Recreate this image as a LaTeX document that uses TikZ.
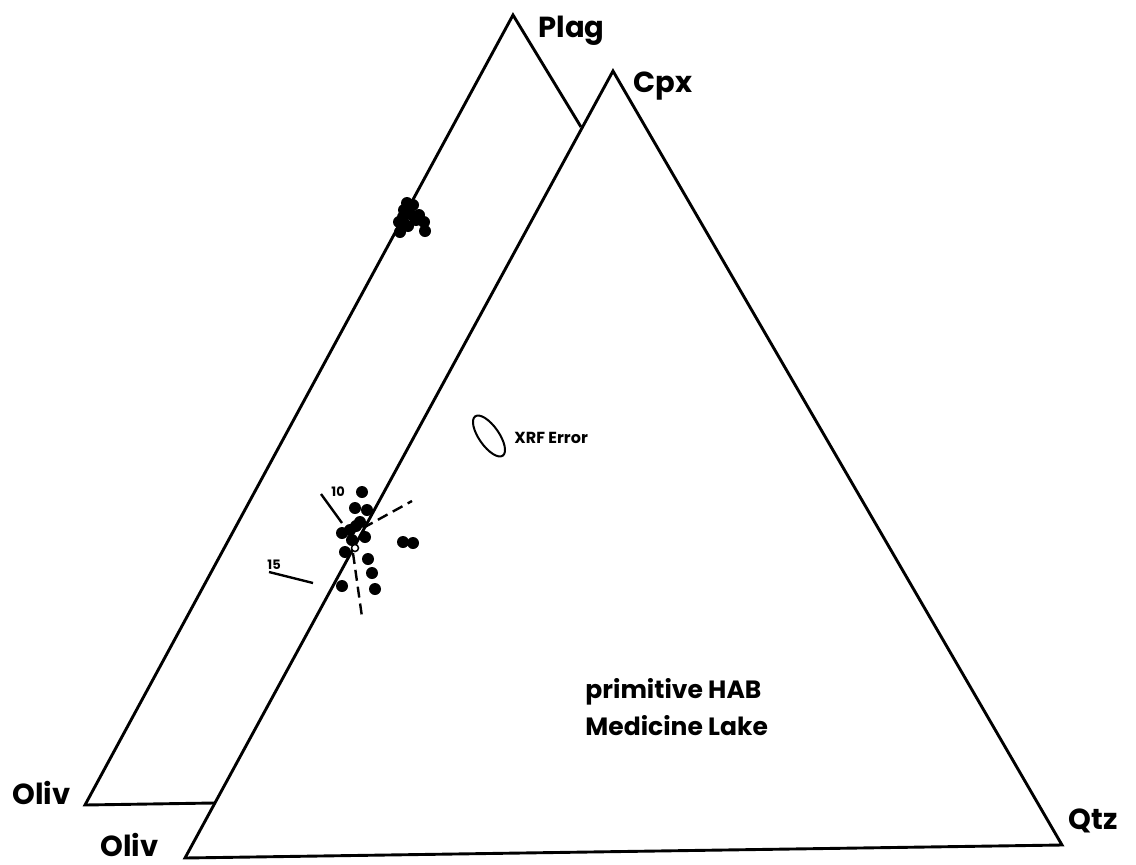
\documentclass[tikz,border=0pt]{standalone}
\usepackage{fontspec}
\setmainfont{Poppins}
\begin{document}
\begin{tikzpicture}[x=1pt, y=-1pt, line width=2.9pt,
	every node/.append style={text=black, font=\bfseries},
	vlab/.style={anchor=base west, inner sep=0pt, font=\bfseries\fontsize{29}{29}\selectfont},
	dot/.style={circle, fill=black, draw=none, minimum size=12pt, inner sep=0pt},
	odot/.style={circle, fill=white, draw=black, line width=1.5pt, minimum size=7pt, inner sep=0pt}]
	\useasboundingbox (0,0) rectangle (1136,865);
	
	% back triangle (Oliv - Plag)
	\coordinate (oliv1) at (85,805);
	\coordinate (plag) at (513,15);
	\coordinate (cut1) at (581,127);
	\coordinate (cut2) at (214,803);
	\draw (cut2) -- (oliv1) -- (plag) -- (cut1);
	
	% front triangle (Oliv - Cpx - Qtz)
	\coordinate (oliv2) at (185,858);
	\coordinate (cpx) at (613,71);
	\coordinate (qtz) at (1062,845);
	\draw (oliv2) -- (cpx) -- (qtz) -- cycle;
	
	\node[vlab] (plaglab) at (537,37) {Plag};
	\node[vlab] (cpxlab) at (632,92) {Cpx};
	\node[vlab] (oliv1lab) at (11,804) {Oliv};
	\node[vlab] (oliv2lab) at (99,856) {Oliv};
	\node[vlab] (qtzlab) at (1067,829) {Qtz};
	
	\node[anchor=base west, inner sep=0pt, font=\bfseries\fontsize{25}{25}\selectfont] (hab) at (584,698) {primitive HAB};
	\node[anchor=base west, inner sep=0pt, font=\bfseries\fontsize{25}{25}\selectfont] (mlake) at (584,735) {Medicine Lake};
	
	% error ellipse
	\coordinate (xrf) at (489,436);
	\draw[line width=2pt, rotate around={-55:(xrf)}] (xrf) ellipse [x radius=24pt, y radius=10pt];
	\node[anchor=base west, inner sep=0pt, font=\bfseries\fontsize{16}{16}\selectfont] (xrflab) at (513,443) {XRF Error};
	
	% plag cluster
	\foreach \x/\y [count=\k] in {407/203, 413/205, 404/210, 410/214, 399/222, 400/232, 408/226, 416/220, 424/222, 425/231, 419/215, 403/217}
	{
		\node[dot] (p\k) at (\x,\y) {};
	}
	
	% cpx cluster
	\foreach \x/\y [count=\k] in {362/492, 355/508, 367/510, 360/522, 342/533, 350/530, 365/537, 345/552, 403/542, 413/543, 368/559, 372/573, 342/586, 375/589, 352/540, 356/526}
	{
		\node[dot] (c\k) at (\x,\y) {};
	}
	\node[odot] (open) at (355,548) {};
	
	% dashed directions
	\coordinate (da1) at (363,528);
	\coordinate (da2) at (412,501);
	\coordinate (db1) at (353,553);
	\coordinate (db2) at (362,617);
	\draw[line width=2.4pt, dash pattern=on 11pt off 6pt] (da1) -- (da2);
	\draw[line width=2.4pt, dash pattern=on 11pt off 6pt] (db1) -- (db2);
	
	% ticks
	\coordinate (t10a) at (321,494);
	\coordinate (t10b) at (342,523);
	\coordinate (t15a) at (269,572);
	\coordinate (t15b) at (313,583);
	\draw[line width=2.4pt] (t10a) -- (t10b);
	\draw[line width=2.4pt] (t15a) -- (t15b);
	\node[anchor=base west, inner sep=0pt, font=\bfseries\fontsize{13}{13}\selectfont] (lab10) at (330,496) {10};
	\node[anchor=base west, inner sep=0pt, font=\bfseries\fontsize{13}{13}\selectfont] (lab15) at (266,569) {15};
\end{tikzpicture}
\end{document}
